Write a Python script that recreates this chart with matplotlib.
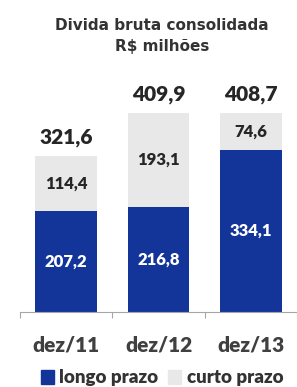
import matplotlib.pyplot as plt
from matplotlib.patches import Patch

# data
periods = ["dez/11", "dez/12", "dez/13"]
longo_prazo = [207.2, 216.8, 334.1]
curto_prazo = [114.4, 193.1, 74.6]
totals = [321.6, 409.9, 408.7]

blue = "#13359a"
grey = "#e8e8e8"
font = "Lato"
w = "heavy"

fig = plt.figure(figsize=(2.97, 3.87), dpi=100)
ax = fig.add_axes([20 / 297, 1 - 312 / 387, 1 - 20 / 297, 218.7 / 387])

x = list(range(len(periods)))
ax.bar(x, longo_prazo, width=0.67, color=blue, label="longo prazo")
ax.bar(x, curto_prazo, width=0.67, bottom=longo_prazo, color=grey, label="curto prazo")

# labels inside the segments
for i in x:
    ax.text(i, longo_prazo[i] / 2, f"{longo_prazo[i]:.1f}".replace(".", ","),
            ha="center", va="center", color="white", fontsize=12,
            fontweight=w, family=font)
    ax.text(i, longo_prazo[i] + curto_prazo[i] / 2, f"{curto_prazo[i]:.1f}".replace(".", ","),
            ha="center", va="center", color="#262626", fontsize=12,
            fontweight=w, family=font)
    ax.text(i, totals[i] + 38, f"{totals[i]:.1f}".replace(".", ","),
            ha="center", va="center", color="#262626", fontsize=15,
            fontweight=w, family=font, clip_on=False)

ax.set_xlim(-0.5, 2.5)
ax.set_ylim(0, 450)
ax.set_yticks([])
for s in ["top", "right", "left"]:
    ax.spines[s].set_visible(False)
ax.spines["bottom"].set_color("#a6a6a6")

ax.set_xticks([-0.5, 0.5, 1.5, 2.5])
ax.set_xticklabels([])
ax.tick_params(axis="x", which="major", length=4, color="#a6a6a6")
ax.set_xticks(x, minor=True)
ax.set_xticklabels(periods, minor=True, fontsize=15, fontweight=w,
                   family=font, color="#404040")
ax.tick_params(axis="x", which="minor", length=0, pad=17)

fig.text(0.545, 1 - 25 / 387, "Divida bruta consolidada", ha="center", va="center",
         fontsize=11, fontweight="bold", color="#333333")
fig.text(0.545, 1 - 47 / 387, "R$ milhões", ha="center", va="center",
         fontsize=11, fontweight="bold", color="#333333")

handles = [Patch(color=blue), Patch(color=grey)]
fig.legend(handles, ["longo prazo", "curto prazo"], loc="center",
           bbox_to_anchor=(0.545, 1 - 378 / 387), ncol=2, frameon=False,
           handlelength=0.7, handleheight=0.7, handletextpad=0.3,
           columnspacing=0.5, prop={"family": font, "weight": w, "size": 13.5},
           labelcolor="#333333", borderpad=0)

fig.savefig("out.png", dpi=100)
